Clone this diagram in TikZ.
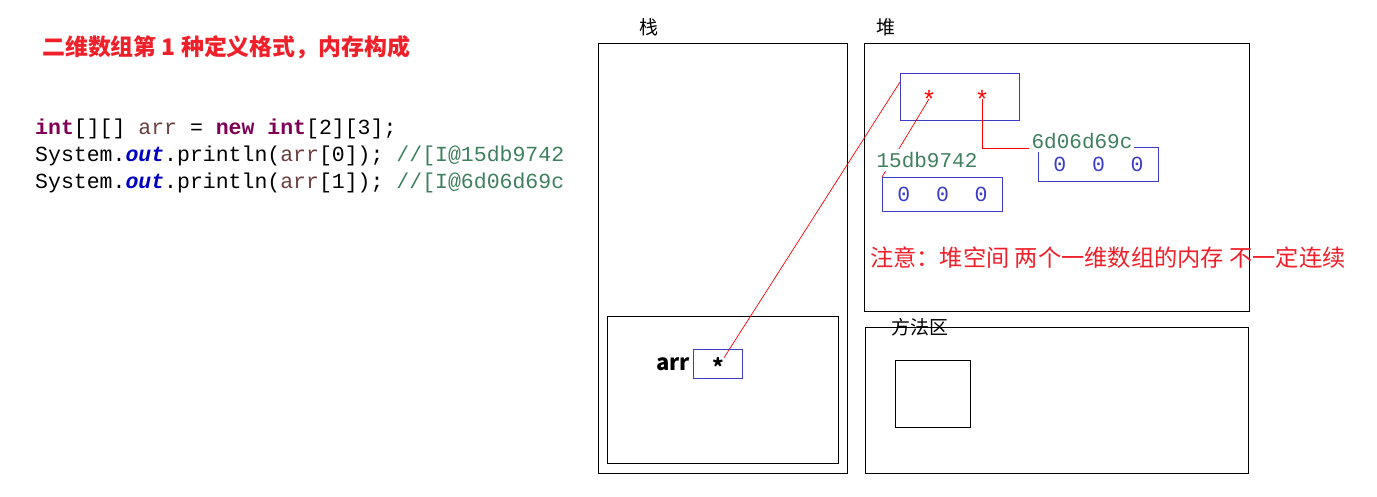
\documentclass[tikz,border=0pt]{standalone}
\usepackage{fontspec}
\setmainfont{Noto Sans CJK SC}
\newfontfamily\codefont{Liberation Mono}
\usetikzlibrary{positioning}

\definecolor{kwpurple}{HTML}{7F0055}
\definecolor{varbrown}{HTML}{6A3E3E}
\definecolor{fieldblue}{HTML}{0000C0}
\definecolor{cmtgreen}{HTML}{3F7F5F}
\definecolor{boxblue}{HTML}{3C3CC8}
\definecolor{notered}{HTML}{F0202A}

\begin{document}
\begin{tikzpicture}[
        x=1pt, y=-1pt,
        every node/.style = {inner sep=0pt},
        % zones memoire (pile, tas, zone des methodes)
        area/.style = {
            rectangle,
            draw=black,
            line width=1.1pt,
            anchor=north west
        },
        % cases bleues (references et tableaux)
        cell/.style = {
            rectangle,
            draw=boxblue,
            line width=0.9pt,
            anchor=north west,
            font=\codefont\fontsize{21.5}{21.5}\selectfont,
            text=boxblue
        },
        % titres des zones
        zonelabel/.style = {font=\fontsize{19}{19}\selectfont},
        % adresses en vert
        hexlabel/.style = {
            fill=white,
            inner xsep=2pt, inner ysep=3pt,
            font=\codefont\fontsize{21}{21}\selectfont,
            text=cmtgreen
        },
        redstar/.style = {font=\codefont\fontsize{25}{25}\selectfont, text=red},
        codeline/.style = {anchor=base west, font=\codefont\fontsize{21.5}{21.5}\selectfont},
        % liens rouges
        link/.style = {draw=red, line width=0.7pt}
    ]
        \useasboundingbox (0,0) rectangle (1377,497);

        % 1. Titre et code
        \node (title) [anchor=west, text=notered, font=\bfseries\fontsize{22.9}{22.9}\selectfont]
            at (42,47) {二维数组第 1 种定义格式，内存构成};
        \node (code0) [codeline] at (35,135)
            {{\color{kwpurple}\bfseries int}[][] {\color{varbrown}arr} = {\color{kwpurple}\bfseries new} {\color{kwpurple}\bfseries int}[2][3];};
        \node (code1) [codeline] at (35,162)
            {System.{\color{fieldblue}\bfseries\itshape out}.println({\color{varbrown}arr}[0]); {\color{cmtgreen}//[I@15db9742}};
        \node (code2) [codeline] at (35,189)
            {System.{\color{fieldblue}\bfseries\itshape out}.println({\color{varbrown}arr}[1]); {\color{cmtgreen}//[I@6d06d69c}};

        % 2. Zones memoire
        \node (stack)  [area, minimum width=249, minimum height=430] at (598,43) {};
        \node (frame)  [area, minimum width=231, minimum height=147] at (607,316) {};
        \node (heap)   [area, minimum width=385, minimum height=268] at (864,43) {};
        \node (method) [area, minimum width=383, minimum height=146] at (865,327) {};
        \node (slot)   [area, minimum width=75, minimum height=67] at (895,360) {};

        \node (stacklbl)  [zonelabel] at (649,27) {栈};
        \node (heaplbl)   [zonelabel] at (886,27) {堆};
        \node (methodlbl) [zonelabel] at (920,327) {方法区};

        % 3. Variable arr dans la pile
        \node (arrbox) [cell, minimum width=49, minimum height=29] at (693,349) {};
        \node (arrstar) [font=\bfseries\fontsize{22}{22}\selectfont, yshift=-3] at (arrbox.center) {*};
        \node (arrname) [left=3pt of arrbox, font=\bfseries\fontsize{22}{22}\selectfont] {arr};

        % 4. Tableaux dans le tas
        \node (rows) [cell, minimum width=119, minimum height=47] at (900,73) {};
        \node (row0) [redstar] at (929,99) {*};
        \node (row1) [redstar] at (982,99) {*};
        \node (arrA) [cell, minimum width=120, minimum height=34] at (882,177) {0~~0~~0};
        \node (arrB) [cell, minimum width=120, minimum height=34] at (1038,147) {0~~0~~0};

        % 5. Liens
        \draw [link] (arrstar.north east) -- ([yshift=-9]rows.north west);
        \draw [link] (row0.center) -- (arrA.north west);
        \node (hexA) [hexlabel] at (927,160) {15db9742};
        \node (hexB) [hexlabel] at (1082,141) {6d06d69c};
        \draw [link] (row1.center) |- (hexB.base west);

        % 6. Remarque
        \node (note) [anchor=west, text=notered, font=\fontsize{23.25}{23.25}\selectfont]
            at (870,258) {注意：堆空间 两个一维数组的内存 不一定连续};

    \end{tikzpicture}
\end{document}
